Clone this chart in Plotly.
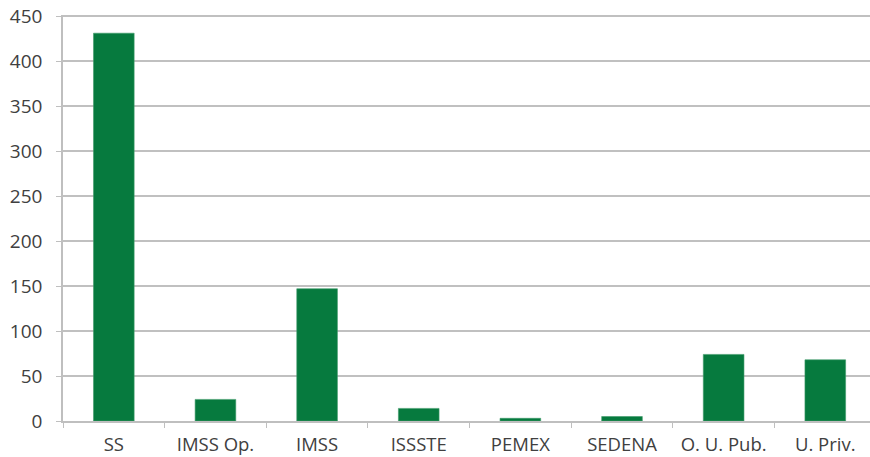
import plotly.graph_objects as go

categories = ["SS", "IMSS Op.", "IMSS", "ISSSTE", "PEMEX", "SEDENA", "O. U. Pub.", "U. Priv."]
values = [431, 24, 147, 14, 3, 5, 74, 68]
y_ticks = [0, 50, 100, 150, 200, 250, 300, 350, 400, 450]

fig = go.Figure()
fig.add_trace(go.Bar(
    x=categories,
    y=values,
    marker=dict(color="#067A3E", line=dict(color="#3f9a6a", width=0.6)),
    width=0.4,
))

fig.update_layout(
    width=870, height=457,
    margin=dict(l=63, r=0, t=15, b=36, autoexpand=False),
    paper_bgcolor="white",
    plot_bgcolor="white",
    font=dict(family="Open Sans", size=18, color="#404040"),
    showlegend=False,
    xaxis=dict(
        range=[-0.5, 7.44],
        showline=True, linecolor="#BFBFBF", linewidth=1.5,
        ticks="outside", tickson="boundaries", ticklen=5, tickcolor="#BFBFBF",
        showgrid=False,
        tickfont=dict(size=18.5),
        ticklabelstandoff=6,
        automargin=False,
    ),
    yaxis=dict(
        range=[0, 451.2],
        tickvals=y_ticks,
        showline=True, linecolor="#BFBFBF", linewidth=1.5,
        ticks="outside", ticklen=5, tickcolor="#BFBFBF",
        gridcolor="#C0C0C0", gridwidth=1.5,
        zeroline=False,
        tickfont=dict(size=19),
        ticklabelstandoff=10,
        ticklabeloverflow="allow",
        automargin=False,
    ),
)

# drop the default page margin so the figure sits at the window's corner
fig.write_html(
    "out.html",
    config={"displayModeBar": False},
    post_script="document.body.style.margin='0';",
)
